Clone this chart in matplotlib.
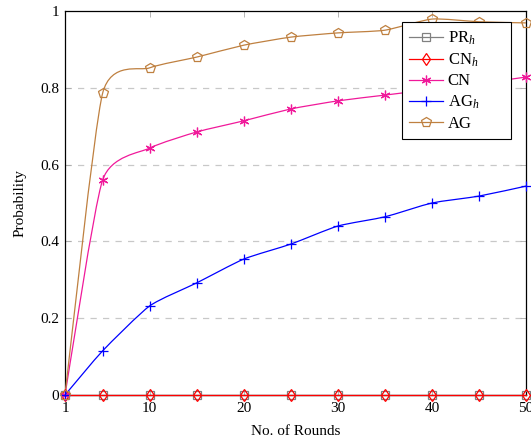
import matplotlib
matplotlib.use("Agg")
import matplotlib.pyplot as plt
import numpy as np
from matplotlib.path import Path
from matplotlib.patches import PathPatch
from matplotlib.lines import Line2D

plt.rcParams["font.family"] = ["Liberation Serif", "DejaVu Serif"]
plt.rcParams["mathtext.fontset"] = "custom"
plt.rcParams["mathtext.rm"] = "Liberation Serif"
plt.rcParams["mathtext.it"] = "Liberation Serif:italic"

rounds = [1, 5, 10, 15, 20, 25, 30, 35, 40, 45, 50]
pr_h = [0, 0, 0, 0, 0, 0, 0, 0, 0, 0, 0]
cn_h = [0, 0, 0, 0, 0, 0, 0, 0, 0, 0, 0]
cn = [0, 0.560, 0.643, 0.685, 0.714, 0.745, 0.766, 0.781, 0.796, 0.811, 0.828]
ag_h = [0, 0.115, 0.232, 0.292, 0.354, 0.393, 0.440, 0.464, 0.500, 0.518, 0.544]
ag = [0, 0.786, 0.852, 0.880, 0.911, 0.932, 0.943, 0.950, 0.979, 0.972, 0.969]

x_ticks = [1, 10, 20, 30, 40, 50]
y_ticks = [0, 0.2, 0.4, 0.6, 0.8, 1]
y_tick_labels = ["0", "0.2", "0.4", "0.6", "0.8", "1"]


def smooth_path(x, y, tension=0.1):
    # Bezier through the data points (like pgfplots "smooth")
    pts = np.column_stack([x, y]).astype(float)
    verts = [pts[0]]
    codes = [Path.MOVETO]
    n = len(pts)
    for i in range(n - 1):
        p0 = pts[i - 1] if i > 0 else pts[i]
        p1, p2 = pts[i], pts[i + 1]
        p3 = pts[i + 2] if i + 2 < n else pts[i + 1]
        c1 = p1 + (p2 - p0) * tension
        c2 = p2 - (p3 - p1) * tension
        verts += [c1, c2, p2]
        codes += [Path.CURVE4] * 3
    return Path(verts, codes)


series = [
    ("PR$_h$", pr_h, "#808080", "s", 6, False),
    ("CN$_h$", cn_h, "#ff0000", "d", 6, False),
    ("CN", cn, "#f0199a", (6, 2, 0), 7, True),
    ("AG$_h$", ag_h, "#0000ff", "+", 7, True),
    ("AG", ag, "#bf8040", "p", 7, True),
]

fig = plt.figure(figsize=(5.31, 4.42), dpi=100)
ax = fig.add_axes([0.1224, 0.1063, 0.8682, 0.8688])

handles = []
for label, vals, color, marker, ms, smooth in series:
    if smooth:
        ax.add_patch(PathPatch(smooth_path(rounds, vals), facecolor="none",
                               edgecolor=color, lw=0.9, zorder=3))
    else:
        ax.plot(rounds, vals, color=color, lw=0.9, zorder=3, clip_on=False)
    ax.plot(rounds, vals, linestyle="none", marker=marker, ms=ms,
            markerfacecolor="none", markeredgecolor=color, mew=0.9,
            zorder=4, clip_on=False)
    handles.append(Line2D([0], [0], color=color, lw=0.9, marker=marker, ms=ms,
                          markerfacecolor="none", markeredgecolor=color,
                          mew=0.9, label=label))

ax.set_xlim(1, 50)
ax.set_ylim(0, 1)
ax.set_xticks(x_ticks)
ax.set_yticks(y_ticks)
ax.set_yticklabels(y_tick_labels)
ax.tick_params(direction="in", top=True, right=True, length=4,
               width=0.6, labelsize=11, pad=3)
ax.tick_params(axis="y", colors="#aaaaaa", labelcolor="black", pad=4)
ax.tick_params(axis="x", colors="#aaaaaa", labelcolor="black", pad=5)
for y in [0.2, 0.4, 0.6, 0.8]:
    ax.axhline(y, color="#c8c8c8", lw=0.9, ls=(0, (5, 5)), zorder=1)
for s in ax.spines.values():
    s.set_linewidth(0.9)
    s.set_color("black")

ax.set_xlabel("No. of Rounds", fontsize=11, labelpad=7)
ax.set_ylabel("Probability", fontsize=11, labelpad=10)

leg = ax.legend(handles=handles, loc="upper left",
                bbox_to_anchor=(0.731, 0.0, 0.2365, 0.971), mode="expand",
                fontsize=12, frameon=True, fancybox=False, framealpha=1,
                edgecolor="black", handlelength=2.0, handletextpad=0.3,
                borderpad=0.45, labelspacing=0.27, borderaxespad=0)
leg.get_frame().set_linewidth(0.8)
leg.set_zorder(10)

fig.savefig("out.png", dpi=100)
